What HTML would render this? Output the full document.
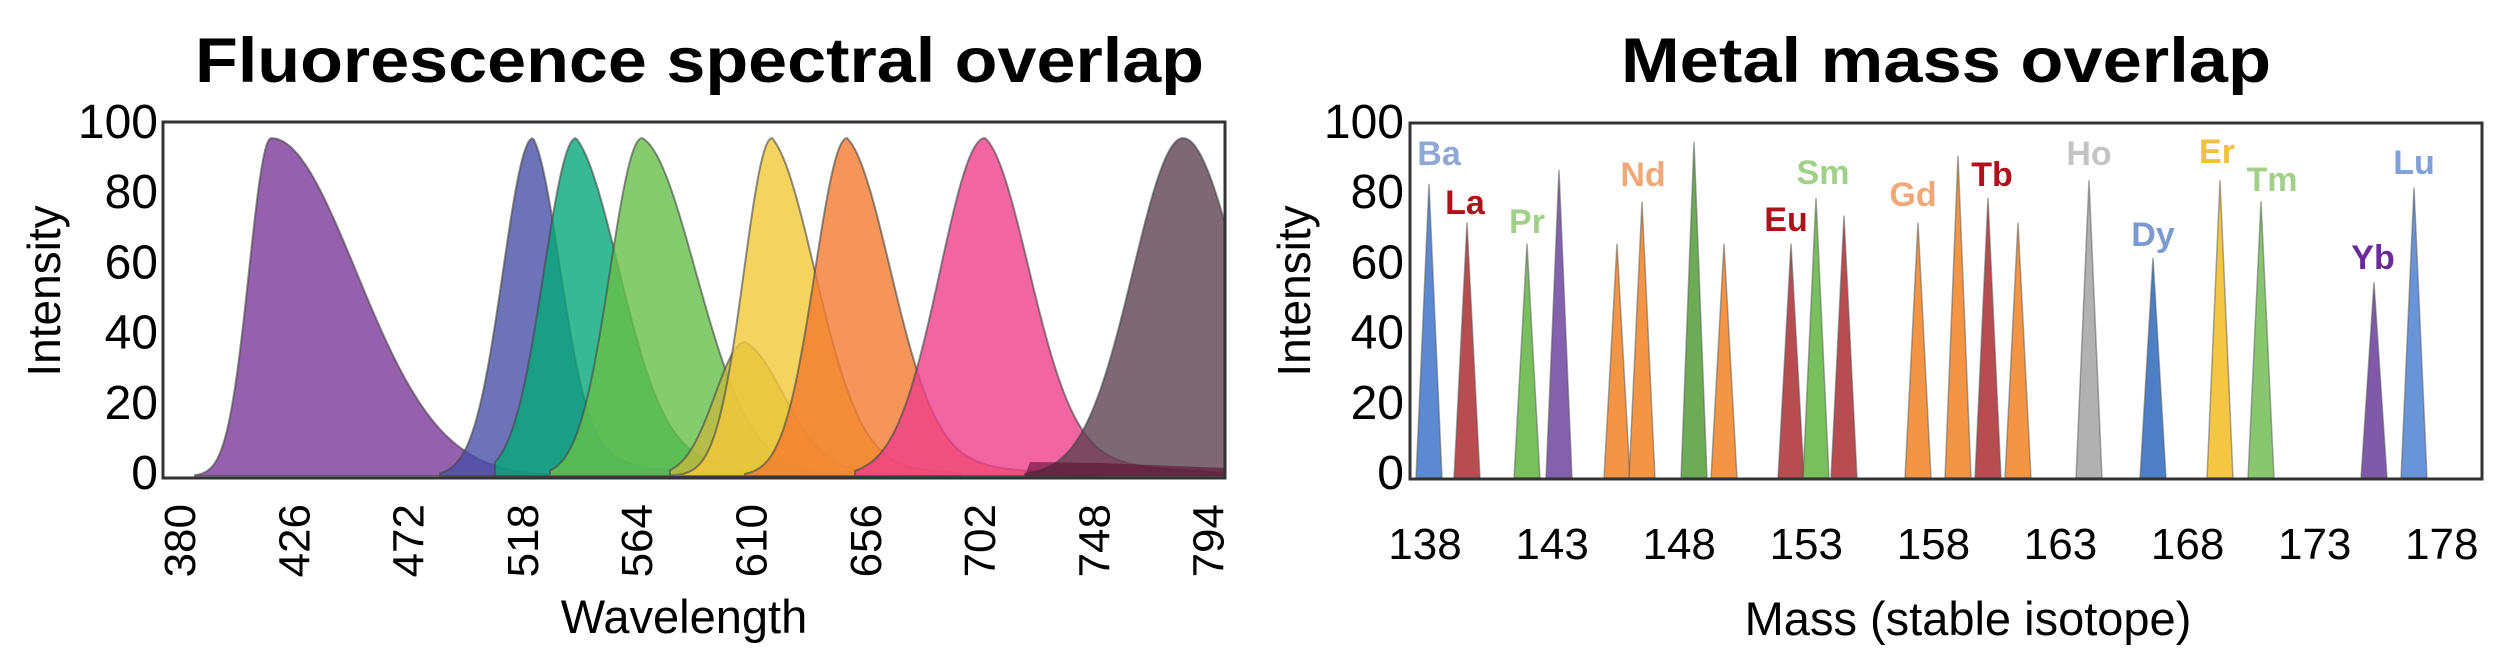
<!DOCTYPE html>
<html><head><meta charset="utf-8"><style>
html,body{margin:0;padding:0;background:#fff;}
svg{display:block;}
text{font-family:"Liberation Sans",sans-serif;}
</style></head><body>
<svg id="s" width="2500" height="667" viewBox="0 0 2500 667" xmlns="http://www.w3.org/2000/svg">
<defs><clipPath id="cl"><rect x="163" y="100" width="1062" height="378"/></clipPath></defs>
<text x="195" y="82" font-size="63" font-weight="bold" textLength="1009" lengthAdjust="spacingAndGlyphs">Fluorescence spectral overlap</text>
<text x="1621" y="82" font-size="63" font-weight="bold" textLength="650" lengthAdjust="spacingAndGlyphs">Metal mass overlap</text>
<g id="curves" clip-path="url(#cl)"></g>
<rect x="163" y="122" width="1062" height="356" fill="none" stroke="#333" stroke-width="3"/>
<g id="peaks"></g>
<rect x="1410" y="123" width="1072" height="356" fill="none" stroke="#333" stroke-width="3"/>
<g font-size="48" text-anchor="end" id="yl"></g>
<g font-size="44" id="xl"></g>
<text transform="translate(60,291) rotate(-90)" font-size="46" text-anchor="middle">Intensity</text>
<text transform="translate(1310,291) rotate(-90)" font-size="46" text-anchor="middle">Intensity</text>
<text x="684" y="633" font-size="47" text-anchor="middle">Wavelength</text>
<text x="1968" y="635" font-size="47" text-anchor="middle">Mass (stable isotope)</text>
<g id="lab" font-weight="bold" font-size="34" text-anchor="middle"></g>
</svg>
<script>
var NS="http://www.w3.org/2000/svg";
function el(p,t,a,txt){var e=document.createElementNS(NS,t);for(var k in a)e.setAttribute(k,a[k]);if(txt!=null)e.textContent=txt;p.appendChild(e);return e;}
function Y(v){return 476-v*3.52;}
var curves=[
 {p:271,sl:22,sr:85,t:0,tau:1,c:"#7a3898",x0:195,x1:620},
 {p:533,sl:30,sr:28,t:0.25,tau:50,c:"#4a4fa8",x0:440,x1:700},
 {p:576,sl:32,sr:45,t:0.25,tau:70,c:"#08a878",x0:495,x1:800},
 {p:642,sl:32,sr:55,t:0.1,tau:70,c:"#66bf4a",x0:550,x1:870},
 {p:745,sl:30,sr:40,t:0.2,tau:60,c:"#c0b840",x0:670,x1:900,h:38},
 {p:772,sl:28,sr:45,t:0.2,tau:60,c:"#f2c83a",x0:670,x1:960},
 {p:847,sl:32,sr:45,t:0.2,tau:70,c:"#f27a30",x0:745,x1:1100},
 {p:985,sl:45,sr:45,t:0.2,tau:80,c:"#ee3e88",x0:855,x1:1225},
 {p:1183,sl:50,sr:55,t:0,tau:1,c:"#5e4250",x0:1025,x1:1230}
];
var g=document.getElementById("curves");
curves.forEach(function(c){
 var h=c.h||96,d="M"+c.x0+","+Y(0);
 for(var x=c.x0;x<=c.x1;x+=2){
  var v,dd=x-c.p;
  if(dd<0)v=h*Math.exp(-0.5*(dd/c.sl)*(dd/c.sl));
  else v=h*((1-c.t)*Math.exp(-0.5*(dd/c.sr)*(dd/c.sr))+c.t*Math.exp(-dd/c.tau));
  d+=" L"+x+","+Y(v).toFixed(1);
 }
 d+=" L"+c.x1+","+Y(0)+"Z";
 el(g,"path",{d:d,fill:c.c,"fill-opacity":0.8,stroke:"#444","stroke-opacity":0.6,"stroke-width":2});
});
el(g,"path",{d:"M1025,476 L1030,462 L1100,463 L1225,468 L1225,476Z",fill:"#5a1030","fill-opacity":0.6});
var pk=[[1429,83,"#4a7ccc"],[1467,72,"#b03a3e"],[1527,66,"#6cb84c"],[1559,87,"#7650a4"],[1617,66,"#f28a30"],[1642,78,"#f28a30"],[1694,95,"#5ea244"],[1724,66,"#f28a30"],[1791,66,"#b03a3e"],[1816,79,"#6cb84c"],[1844,74,"#b03a3e"],[1918,72,"#f28a30"],[1958,91,"#f28a30"],[1988,79,"#b03a3e"],[2018,72,"#f28a30"],[2089,84,"#a8a8a8"],[2153,62,"#3a70c0"],[2220,84,"#f2c030"],[2261,78,"#7cc060"],[2374,55,"#7048a0"],[2414,82,"#5a88d4"]];
var gp=document.getElementById("peaks");
pk.forEach(function(p){
 el(gp,"path",{d:"M"+(p[0]-13)+",478 L"+p[0]+","+Y(p[1])+" L"+(p[0]+13)+",478Z",fill:p[2],"fill-opacity":0.9,stroke:"#555","stroke-opacity":0.5,"stroke-width":1.5});
});
var yl=document.getElementById("yl");
[0,20,40,60,80,100].forEach(function(v){
 var y=472-v*3.51+17;
 el(yl,"text",{x:158,y:y},""+v);
 el(yl,"text",{x:1404,y:y},""+v);
});
var xl=document.getElementById("xl");
[380,426,472,518,564,610,656,702,748,794].forEach(function(v,i){
 var x=179+i*114.3;
 el(xl,"text",{transform:"translate("+(x+16)+",504) rotate(-90)","text-anchor":"end"},""+v);
});
[138,143,148,153,158,163,168,173,178].forEach(function(v,i){
 el(xl,"text",{x:1425+i*127.1,y:559,"text-anchor":"middle"},""+v);
});
var lab=[["Ba",1439,153,"#90a8d8"],["La",1465,202,"#b0101a"],["Pr",1527,221,"#a0d08a"],["Nd",1643,174,"#f0a878"],["Eu",1786,219,"#b0101a"],["Sm",1823,172,"#a0d08a"],["Gd",1913,194,"#f0a878"],["Tb",1992,174,"#b0101a"],["Ho",2089,153,"#c4c4c4"],["Dy",2153,234,"#7a9ad0"],["Er",2217,151,"#f0c040"],["Tm",2272,179,"#a0d08a"],["Yb",2373,257,"#6a2a9a"],["Lu",2414,162,"#7fa0d8"]];
var gl=document.getElementById("lab");
lab.forEach(function(l){el(gl,"text",{x:l[1],y:l[2]+12,fill:l[3]},l[0]);});
</script>
</body></html>
